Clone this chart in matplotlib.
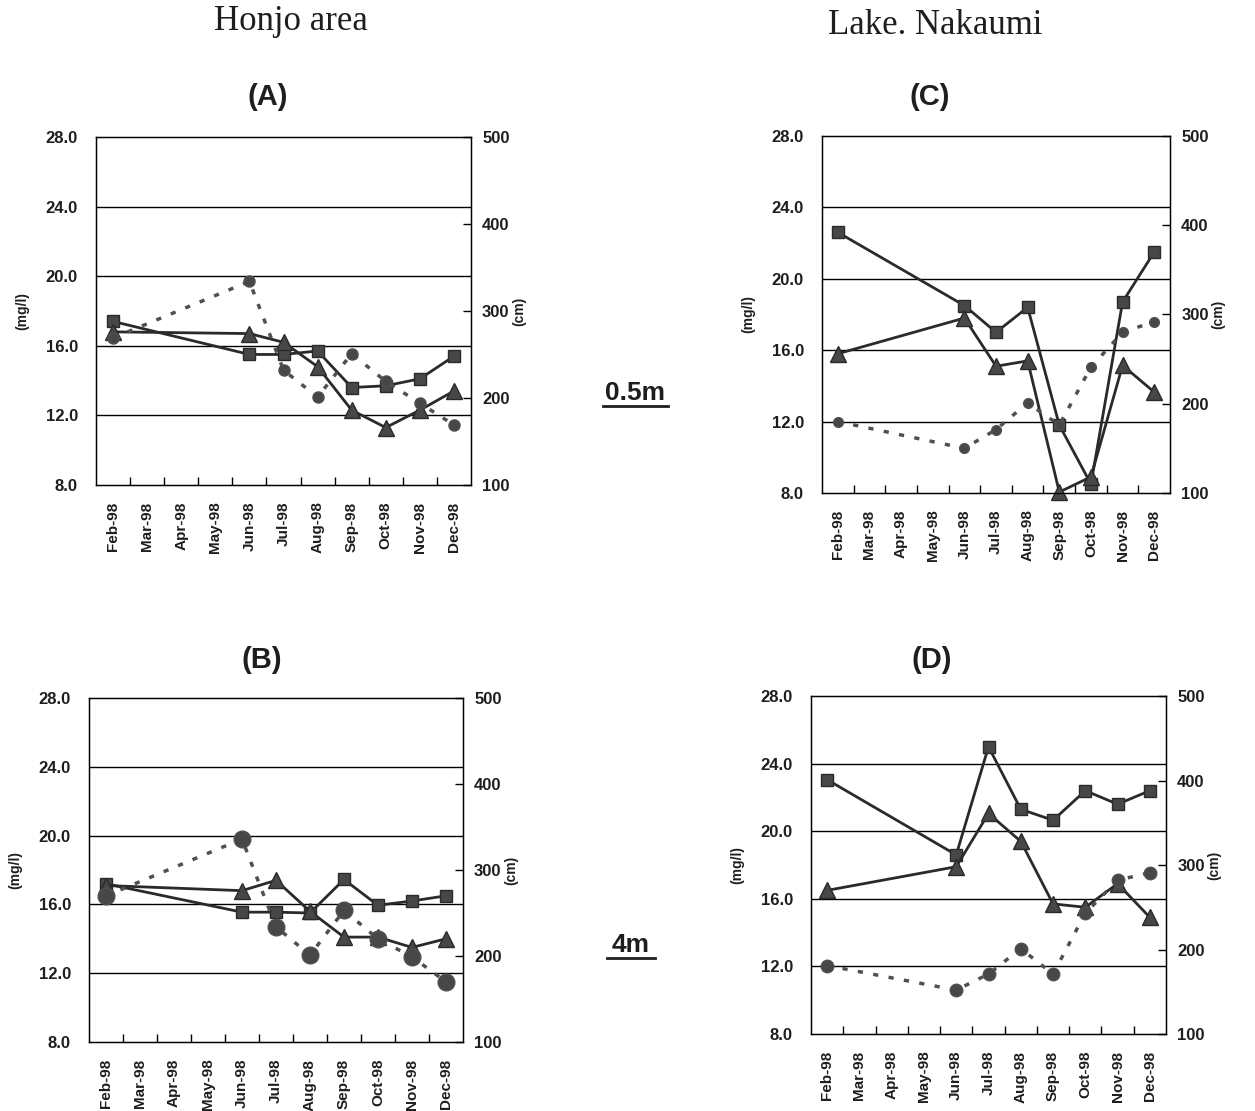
import matplotlib
matplotlib.use("Agg")
import matplotlib.pyplot as plt
from matplotlib.lines import Line2D

# -----------------------------
# Data
# -----------------------------
months = ["Feb-98", "Mar-98", "Apr-98", "May-98", "Jun-98", "Jul-98",
          "Aug-98", "Sep-98", "Oct-98", "Nov-98", "Dec-98"]
sample_months = ["Feb-98", "Jun-98", "Jul-98", "Aug-98", "Sep-98",
                 "Oct-98", "Nov-98", "Dec-98"]

# (A) Honjo area 0.5m
a_square = [17.4, 15.5, 15.5, 15.7, 13.6, 13.7, 14.1, 15.4]
a_triangle = [16.8, 16.7, 16.2, 14.8, 12.3, 11.3, 12.3, 13.4]
a_circle = [269, 334, 232, 201, 251, 219, 194, 169]

# (B) Honjo area 4m
b_square = [17.2, 15.55, 15.55, 15.5, 17.45, 15.95, 16.2, 16.5]
b_triangle = [17.1, 16.8, 17.4, 15.6, 14.1, 14.1, 13.5, 14.0]
b_circle = [270, 336, 234, 201, 253, 220, 199, 170]

# (C) Lake Nakaumi 0.5m
c_square = [22.6, 18.5, 17.0, 18.4, 11.8, 8.5, 18.7, 21.5]
c_triangle = [15.8, 17.8, 15.1, 15.4, 8.05, 8.9, 15.15, 13.65]
c_circle = [180, 150, 171, 201, 176, 241, 280, 292]

# (D) Lake Nakaumi 4m
d_square = [23.05, 18.6, 25.0, 21.3, 20.65, 22.4, 21.6, 22.4]
d_triangle = [16.5, 17.9, 21.05, 19.4, 15.7, 15.5, 16.9, 14.9]
d_circle = [181, 152, 171, 201, 171, 243, 282, 291]

left_ticks = [8, 12, 16, 20, 24, 28]
right_ticks = [100, 200, 300, 400, 500]

# -----------------------------
# Figure
# -----------------------------
plt.rcParams["font.family"] = ["Liberation Sans", "DejaVu Sans"]
plt.rcParams["font.weight"] = "bold"

fig = plt.figure(figsize=(12.55, 11.11), dpi=100)

line_col = "#2a2a2a"
mark_col = "#474747"
text_col = "#1e1e1e"

xpos = [months.index(m) for m in sample_months]


def draw_panel(rect, squares, triangles, circles, circle_size):
    ax = fig.add_axes(rect)
    ax.set_xlim(-0.5, len(months) - 0.5)
    ax.set_ylim(8, 28)
    ax.set_yticks(left_ticks)
    ax.set_yticklabels([f"{v:.1f}" for v in left_ticks], fontsize=12,
                       fontweight="bold", color=text_col)
    ax.tick_params(axis="y", length=0, pad=13)
    for v in left_ticks[1:-1]:
        ax.axhline(v, color="black", lw=1.0, zorder=1)

    ax.set_xticks(range(len(months)))
    ax.set_xticklabels(months, rotation=90, fontsize=11, fontweight="bold",
                       color=text_col)
    ax.tick_params(axis="x", length=0, pad=12)
    ax.set_xticks([i + 0.5 for i in range(len(months) - 1)], minor=True)
    ax.tick_params(axis="x", which="minor", direction="in", length=6, width=1)
    for s in ax.spines.values():
        s.set_linewidth(1.0)
    ax.set_ylabel("(mg/l)", fontsize=10, fontweight="bold", labelpad=12,
                  color=text_col)

    ax.plot(xpos, squares, color=line_col, lw=2, marker="s", ms=8,
            mfc=mark_col, mec=line_col, zorder=4, clip_on=False)
    ax.plot(xpos, triangles, color=line_col, lw=2, marker="^", ms=12,
            mfc=mark_col, mec=line_col, zorder=4, clip_on=False)

    ax2 = ax.twinx()
    ax2.set_ylim(100, 500)
    ax2.set_yticks(right_ticks)
    ax2.set_yticklabels([str(v) for v in right_ticks], fontsize=12,
                        fontweight="bold", color=text_col)
    ax2.tick_params(axis="y", direction="in", length=6, width=1, pad=8)
    ax2.plot(xpos, circles, color="#505050", lw=2.5, ls=(0, (1.5, 3)),
             marker="o", ms=circle_size, mfc=mark_col, mec="#505050",
             zorder=3, clip_on=False)
    ax2.set_ylabel("(cm)", fontsize=10, fontweight="bold", labelpad=2,
                   color=text_col)
    return ax


draw_panel([0.0765, 0.5635, 0.2988, 0.3132], a_square, a_triangle, a_circle, 8)
draw_panel([0.0709, 0.0621, 0.2980, 0.3096], b_square, b_triangle, b_circle, 12)
draw_panel([0.6550, 0.5563, 0.2773, 0.3213], c_square, c_triangle, c_circle, 7)
draw_panel([0.6462, 0.0693, 0.2829, 0.3042], d_square, d_triangle, d_circle, 9)

# -----------------------------
# Titles and labels
# -----------------------------
fig.text(291 / 1255, 1 - 22 / 1111, "Honjo area", family="Liberation Serif",
         fontweight="normal", fontsize=25, ha="center", va="center",
         color=text_col)
fig.text(935 / 1255, 1 - 25 / 1111, "Lake. Nakaumi", family="Liberation Serif",
         fontweight="normal", fontsize=25, ha="center", va="center",
         color=text_col)

for label, x, y in [("(A)", 268, 97), ("(C)", 930, 97), ("(B)", 262, 660), ("(D)", 932, 660)]:
    fig.text(x / 1255, 1 - y / 1111, label, fontsize=21, fontweight="bold",
             ha="center", va="center", color=text_col)

for label, x0, x1, y in [("0.5m", 603, 668, 393), ("4m", 607, 655, 945)]:
    fig.text((x0 + x1) / 2 / 1255, 1 - y / 1111, label, fontsize=19,
             fontweight="bold", ha="center", va="center", color=text_col)
    fig.add_artist(Line2D([x0 / 1255, x1 / 1255],
                          [1 - (y + 13) / 1111, 1 - (y + 13) / 1111],
                          color=text_col, lw=2))

plt.savefig("out.png", dpi=100)
plt.close()
